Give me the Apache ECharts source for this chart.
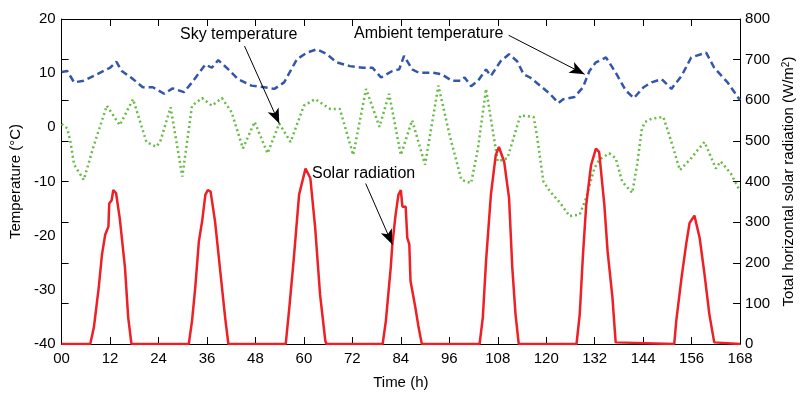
<!DOCTYPE html>
<html>
<head>
<meta charset="utf-8">
<script src="https://cdn.jsdelivr.net/npm/echarts@6/dist/echarts.min.js"></script>
<style>
  html, body { margin: 0; padding: 0; background: #fff; }
  #chart { width: 804px; height: 395px; }
</style>
</head>
<body>
<div id="chart"></div>
<script>
// hour ticks
const hourTicks = [0, 12, 24, 36, 48, 60, 72, 84, 96, 108, 120, 132, 144, 156, 168];

// ambient temperature [hour, °C]
const ambient = [
  [0, 10.2], [1.4, 10.4], [3.1, 8.3], [5.5, 8.6], [8.8, 9.8], [12, 11.0], [13.6, 12.1], [14.9, 10.4],
  [17.7, 8.9], [20.1, 7.4], [22.6, 7.4], [25.4, 6.2], [27.5, 7.2], [30.3, 6.5], [32.3, 8.3], [35.6, 11.6],
  [37.2, 11.0], [38.8, 12.4], [41.3, 10.7], [43.7, 8.9], [47, 7.7], [50.2, 7.4], [52.7, 7.1], [55.1, 8.3],
  [58.3, 12.6], [60.8, 13.8], [63.2, 14.4], [65.7, 13.5], [68.1, 12.0], [71.4, 11.3], [74.6, 11.0], [77, 11.0],
  [79.1, 9.2], [81.9, 10.4], [83.6, 10.7], [84.8, 13.2], [86.8, 10.7], [88.4, 10.1], [91.7, 10.1], [94.1, 9.8],
  [96.6, 8.6], [99, 8.6], [99.8, 9.2], [101.4, 7.6], [103.1, 8.6], [105.1, 10.7], [106.3, 9.5], [108.7, 12.2],
  [110.8, 13.5], [112.8, 12.2], [114.4, 9.8], [116, 9.2], [118.5, 7.7], [120.9, 6.2], [123, 4.5], [124.2, 5.2],
  [127, 5.6], [129.1, 7.4], [130.7, 10.4], [132.3, 12.0], [134.8, 12.9], [137.2, 10.1], [139.7, 6.8], [141.7, 5.4],
  [144.1, 7.4], [146.1, 8.3], [148.6, 8.9], [151, 7.1], [153.5, 9.5], [155.9, 12.9], [159.6, 13.8], [161.6, 11.0],
  [164.9, 8.3], [168, 5.0]
];

// sky temperature [hour, °C]
const sky = [
  [0, 0.6], [1.4, -0.2], [2.2, -2.7], [3.1, -6.9], [5.5, -9.7], [8, -3.3], [11.2, 4.0], [14.4, 0.4],
  [17.7, 5.2], [21, -2.7], [23.4, -3.6], [24.4, -2.7], [27, 3.7], [29.9, -9.1], [32.3, 4.0], [34.8, 5.4],
  [37.2, 4.0], [39.7, 5.4], [42.1, 2.8], [44.9, -3.9], [47.8, 1.0], [51, -4.8], [53.9, 0.7], [56.7, -2.7],
  [60, 4.0], [62.8, 5.2], [66.5, 3.4], [68.9, 3.4], [72.2, -5.1], [75.4, 7.1], [78.7, 0.1], [81.1, 6.2],
  [84, -5.1], [86.8, 1.3], [90, -6.9], [93.3, 7.7], [96.1, -1.5], [99, -9.7], [101.4, -10.3], [103.1, -3.9],
  [105.1, 7.1], [108, -6.3], [110.4, -5.7], [113.6, 2.2], [116.9, 1.9], [117.7, -1.5], [119.3, -10.0], [120.9, -11.8],
  [123.4, -13.9], [125.8, -16.4], [128.3, -16.1], [129.9, -13.0], [131.9, -7.6], [133.1, -6.0], [135.6, -4.8], [137.2, -5.7],
  [138.8, -10.0], [141.3, -12.1], [142.5, -6.9], [143.7, -0.2], [144.5, 1.0], [146.1, 1.6], [149, 1.9], [151, -2.7],
  [153.1, -7.9], [155.9, -5.7], [157.5, -4.2], [159.2, -2.7], [162, -7.6], [163.2, -6.3], [165.7, -8.5], [168, -11.8]
];

// solar radiation [hour, W/m2]
const solar = [
  [0, 0], [7.1, 0], [8, 41], [9.2, 139], [10, 220], [10.8, 269], [11.6, 289], [11.8, 346], [12.4, 354],
  [12.8, 379], [13.5, 371], [14.4, 310], [15.7, 188], [16.5, 65], [17.3, 0],
  [31.5, 0], [32.3, 57], [33.1, 139], [34, 253], [34.8, 302], [35.6, 367], [36.2, 379], [36.9, 375],
  [38, 302], [39.2, 188], [40.5, 65], [41.3, 0],
  [55.5, 0], [56.4, 90], [57.5, 210], [58.8, 367], [60.4, 432], [61.6, 408], [62.8, 285], [64, 122], [65.3, 8], [65.6, 0],
  [79.5, 0], [80.3, 57], [81.5, 188], [81.9, 245], [82.7, 318], [83.4, 367], [84, 379], [84.4, 338],
  [85.2, 338], [85.6, 261], [86.1, 245], [86.4, 155], [87.6, 90], [88.4, 41], [89.2, 0],
  [103.5, 0], [104.3, 65], [105.1, 204], [106.3, 367], [107.5, 465], [108.3, 485], [109.6, 448], [110.8, 359],
  [111.6, 188], [112.4, 73], [113.2, 0],
  [127.5, 0], [128.3, 73], [129.1, 220], [129.9, 342], [131.1, 440], [132.3, 481], [133.1, 473], [134.4, 342],
  [135.2, 228], [136.4, 114], [137.2, 4], [137.5, 0],
  [151.7, 0], [152.2, 57], [153.5, 163], [154.7, 249], [155.5, 298], [156.7, 316], [158, 261], [159.2, 171],
  [160.4, 73], [161.6, 4], [162, 0], [168, 0]
];

var chart = echarts.init(document.getElementById('chart'));
var font = 'Liberation Sans, Arial, sans-serif';
var black = '#000';

function arrow(from, to) {
    return {
        silent: true,
        symbol: ['none', 'arrow'],
        symbolSize: [9, 15],
        lineStyle: {color: black, width: 1, type: 'solid'},
        label: {show: false},
        emphasis: {disabled: true},
        data: [[{coord: from}, {coord: to}]]
    };
}

chart.setOption({
    animation: false,
    backgroundColor: '#fff',
    textStyle: {fontFamily: font, color: black},
    grid: {left: 54, right: 61, top: 19, bottom: 49},
    xAxis: [
        {
            type: 'value', min: 0, max: 168, interval: 12, position: 'bottom',
            name: 'Time (h)', nameLocation: 'middle', nameGap: 31,
            nameTextStyle: {fontSize: 15, color: black, fontFamily: font},
            axisLine: {onZero: false, lineStyle: {color: black, width: 1}},
            axisTick: {inside: true, length: 7, lineStyle: {color: black}},
            axisLabel: {
                fontSize: 15, color: black, margin: 7, fontFamily: font,
                formatter: function (v) { return v === 0 ? '00' : String(v); }
            },
            splitLine: {show: false}
        },
        {
            type: 'value', min: 0, max: 168, interval: 12, position: 'top',
            axisLine: {onZero: false, lineStyle: {color: black, width: 1}},
            axisTick: {inside: true, length: 7, lineStyle: {color: black}},
            axisLabel: {show: false},
            splitLine: {show: false}
        }
    ],
    yAxis: [
        {
            type: 'value', min: -40, max: 20, interval: 10, position: 'left',
            name: 'Temperature (°C)', nameLocation: 'middle', nameRotate: 90, nameGap: 31,
            nameTextStyle: {fontSize: 15, color: black, fontFamily: font},
            axisLine: {show: true, onZero: false, lineStyle: {color: black, width: 1}},
            axisTick: {show: false},
            axisLabel: {fontSize: 15, color: black, margin: 6, fontFamily: font},
            splitLine: {show: false}
        },
        {
            type: 'value', min: 0, max: 800, interval: 100, position: 'right',
            name: 'Total horizontal solar radiation (W/m{sup|2})', nameLocation: 'middle', nameRotate: 90, nameGap: 40,
            nameTextStyle: {
                fontSize: 15, color: black, fontFamily: font,
                rich: {sup: {fontSize: 10, verticalAlign: 'top', lineHeight: 10, color: black, fontFamily: font}}
            },
            axisLine: {show: true, onZero: false, lineStyle: {color: black, width: 1}},
            axisTick: {inside: true, length: 7, lineStyle: {color: black}},
            axisLabel: {fontSize: 15, color: black, margin: 5, fontFamily: font},
            splitLine: {show: false}
        },
        {
            // radiation ticks mirrored on the left edge
            type: 'value', min: 0, max: 800, interval: 100, position: 'left',
            axisLine: {show: false, onZero: false},
            axisTick: {show: true, inside: true, length: 7, lineStyle: {color: black}},
            axisLabel: {show: false},
            splitLine: {show: false}
        }
    ],
    series: [
        {
            name: 'Ambient temperature', type: 'line', yAxisIndex: 0, data: ambient,
            showSymbol: false, symbol: 'none', silent: true,
            lineStyle: {color: '#3355aa', width: 2.5, type: [7, 4]},
            markLine: arrow([110.7, 17.0], [129.5, 9.8])
        },
        {
            name: 'Sky temperature', type: 'line', yAxisIndex: 0, data: sky,
            showSymbol: false, symbol: 'none', silent: true,
            lineStyle: {color: '#66bb44', width: 2.5, type: [2, 3]},
            markLine: arrow([45.3, 15.0], [53.9, 0.7])
        },
        {
            name: 'Solar radiation', type: 'line', yAxisIndex: 1, data: solar,
            showSymbol: false, symbol: 'none', silent: true,
            lineStyle: {color: '#ee2026', width: 2.5},
            markLine: arrow([75.3, 395], [81.9, 245])
        }
    ],
    graphic: [
        {type: 'text', left: 180, top: 27, style: {text: 'Sky temperature', fontSize: 16, fill: black, fontFamily: font}},
        {type: 'text', left: 354, top: 26, style: {text: 'Ambient temperature', fontSize: 16, fill: black, fontFamily: font}},
        {type: 'text', left: 312, top: 166, style: {text: 'Solar radiation', fontSize: 16, fill: black, fontFamily: font}}
    ]
});

window.addEventListener('resize', function () {
    chart.resize();
});
</script>
</body>
</html>
